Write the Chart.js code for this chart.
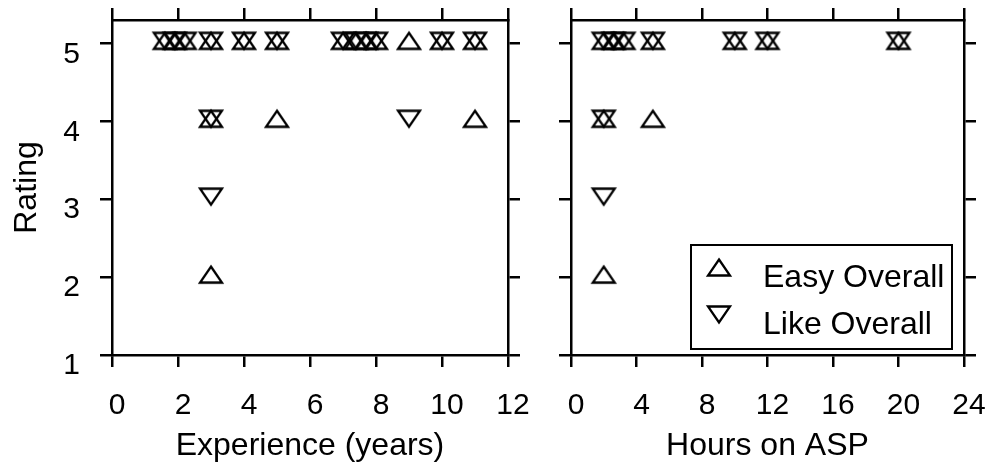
<!DOCTYPE html>
<html>
<head>
<meta charset="utf-8">
<script src="https://cdn.jsdelivr.net/npm/chart.js@4/dist/chart.umd.min.js"></script>
<style>
  body { margin: 0; background: #fff; }
  #wrap { position: relative; width: 990px; height: 466px; }
  #left { position: absolute; left: 0; top: 0; }
  #right { position: absolute; left: 540px; top: 0; }
</style>
</head>
<body>
<div id="wrap">
  <canvas id="left" width="540" height="466"></canvas>
  <canvas id="right" width="450" height="466"></canvas>
</div>
<script>
// ratings vs experience (years)
const expEasyX = [1.6, 1.9, 2.2, 3, 4, 5, 7, 7.4, 7.7, 8, 9, 10, 11, 3, 5, 11, 3];
const expEasyY = [5, 5, 5, 5, 5, 5, 5, 5, 5, 5, 5, 5, 5, 4, 4, 4, 2];
const expLikeX = [1.6, 1.9, 2.2, 3, 4, 5, 7, 7.4, 7.7, 8, 10, 11, 3, 9, 3];
const expLikeY = [5, 5, 5, 5, 5, 5, 5, 5, 5, 5, 5, 5, 4, 4, 3];

// ratings vs hours on ASP
const hrsEasyX = [2, 2.6, 3.2, 5, 10, 12, 20, 2, 5, 2];
const hrsEasyY = [5, 5, 5, 5, 5, 5, 5, 4, 4, 2];
const hrsLikeX = [2, 2.6, 3.2, 5, 10, 12, 20, 2, 2];
const hrsLikeY = [5, 5, 5, 5, 5, 5, 5, 4, 3];

const expTicks = [0, 2, 4, 6, 8, 10, 12];
const hrsTicks = [0, 4, 8, 12, 16, 20, 24];
const ratingTicks = [1, 2, 3, 4, 5];
const seriesNames = ['Easy Overall', 'Like Overall'];

Chart.defaults.font.family = '"Liberation Sans", Arial, sans-serif';
Chart.defaults.color = '#000';

// open triangle markers
function triangle(up) {
    const c = document.createElement('canvas');
    c.width = 28;
    c.height = 28;
    const g = c.getContext('2d');
    g.strokeStyle = '#000';
    g.lineWidth = 2.3;
    const l = 3, r = 25, t = 3.5, b = 19.5;
    g.beginPath();
    if (up) {
        g.moveTo((l + r) / 2, t);
        g.lineTo(r, b);
        g.lineTo(l, b);
    } else {
        g.moveTo(l, t);
        g.lineTo(r, t);
        g.lineTo((l + r) / 2, b);
    }
    g.closePath();
    g.stroke();
    return c;
}
const upImg = triangle(true);
const downImg = triangle(false);

const toPoints = (xs, ys) => xs.map((x, i) => ({ x, y: ys[i] }));

const grid = { drawOnChartArea: false, color: '#000', lineWidth: 2.5, tickLength: 12 };
const border = { color: '#000', width: 2.5 };
const tickFont = { size: 30 };
const titleFont = { size: 32 };

function setTicks(values) {
    return scale => { scale.ticks = values.map(v => ({ value: v })); };
}

// fixed axis sizes, no extra label padding
function fixHeight(h) {
    return s => { s.height = h; s.paddingLeft = 0; s.paddingRight = 0; };
}
function fixWidth(w) {
    return s => { s.width = w; s.paddingTop = 0; s.paddingBottom = 0; };
}

function makeScales(xTicks, xMax, xTitle, showY, sizes) {
    return {
        x: {
            type: 'linear', position: 'bottom', min: 0, max: xMax,
            afterBuildTicks: setTicks(xTicks),
            grid, border,
            ticks: { font: tickFont, padding: 21, labelOffset: 5, maxRotation: 0, autoSkip: false },
            title: { display: true, text: xTitle, font: titleFont, padding: { top: 0, bottom: 1 } },
            afterFit: fixHeight(111)
        },
        x2: {
            type: 'linear', position: 'top', min: 0, max: xMax,
            afterBuildTicks: setTicks(xTicks),
            grid, border,
            ticks: { display: false },
            afterFit: fixHeight(20)
        },
        y: {
            type: 'linear', position: 'left', min: 1, max: 5.3,
            afterBuildTicks: setTicks(ratingTicks),
            grid, border,
            ticks: { display: showY, font: tickFont, padding: 20, labelOffset: 11 },
            title: { display: showY, text: 'Rating', font: titleFont, padding: { top: 8, bottom: 0 } },
            afterFit: fixWidth(sizes[0])
        },
        y2: {
            type: 'linear', position: 'right', min: 1, max: 5.3,
            afterBuildTicks: setTicks(ratingTicks),
            grid, border,
            ticks: { display: false },
            afterFit: fixWidth(sizes[1])
        }
    };
}

function makeDatasets(easyX, easyY, likeX, likeY) {
    return [
        { label: seriesNames[0], data: toPoints(easyX, easyY), pointStyle: upImg, pointRadius: 12, showLine: false },
        { label: seriesNames[1], data: toPoints(likeX, likeY), pointStyle: downImg, pointRadius: 12, showLine: false }
    ];
}

// legend box drawn inside the plot area
const boxLegend = {
    id: 'boxLegend',
    afterDraw(chart) {
        const ctx = chart.ctx;
        const area = chart.chartArea;
        const w = 261, h = 104;
        const x0 = area.right - 12 - w;
        const y0 = area.bottom - 6 - h;
        ctx.save();
        ctx.fillStyle = '#fff';
        ctx.fillRect(x0, y0, w, h);
        ctx.strokeStyle = '#000';
        ctx.lineWidth = 2;
        ctx.strokeRect(x0, y0, w, h);
        ctx.font = '32px "Liberation Sans", Arial, sans-serif';
        ctx.fillStyle = '#000';
        ctx.textBaseline = 'middle';
        chart.data.datasets.forEach((ds, i) => {
            const cy = y0 + 25 + i * 47;
            ctx.drawImage(ds.pointStyle, x0 + 28 - 14, cy - 14);
            ctx.fillText(ds.label, x0 + 72, cy + 8);
        });
        ctx.restore();
    }
};

const common = {
    responsive: false,
    animation: false,
    layout: { padding: 0 },
    plugins: { legend: { display: false }, tooltip: { enabled: false } }
};

new Chart(document.getElementById('left'), {
    type: 'scatter',
    data: { datasets: makeDatasets(expEasyX, expEasyY, expLikeX, expLikeY) },
    options: Object.assign({}, common, {
        scales: makeScales(expTicks, 12, 'Experience (years)', true, [112, 32])
    })
});

new Chart(document.getElementById('right'), {
    type: 'scatter',
    data: { datasets: makeDatasets(hrsEasyX, hrsEasyY, hrsLikeX, hrsLikeY) },
    options: Object.assign({}, common, {
        scales: makeScales(hrsTicks, 24, 'Hours on ASP', false, [31, 26])
    }),
    plugins: [boxLegend]
});
</script>
</body>
</html>
